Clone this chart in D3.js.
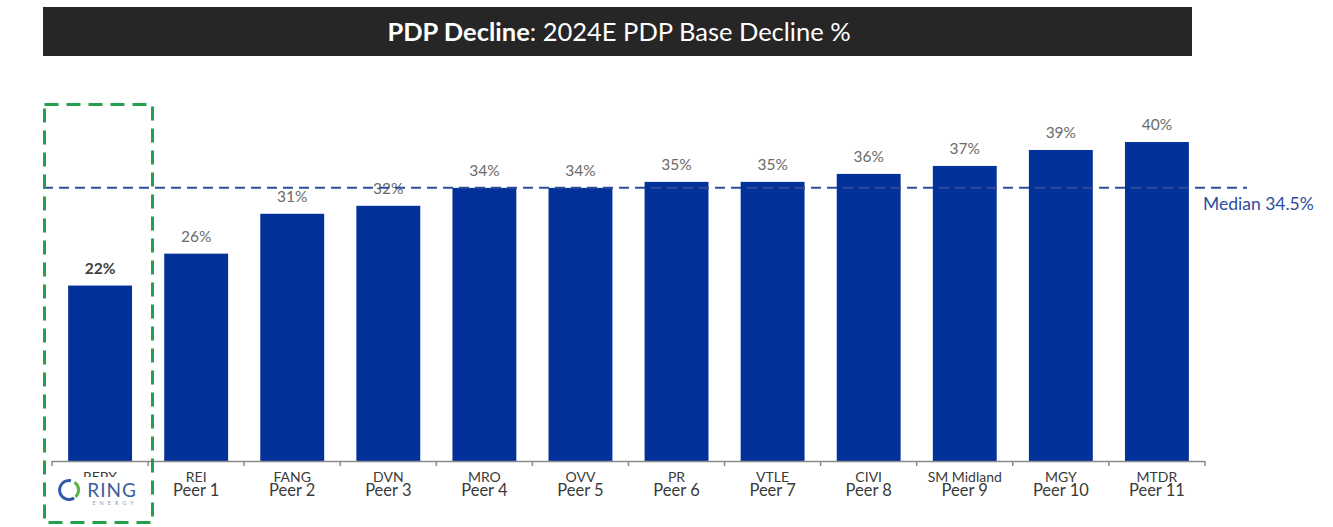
<!DOCTYPE html>
<html><head><meta charset="utf-8">
<script src="https://cdn.jsdelivr.net/npm/d3@7"></script>
<style>body{margin:0;background:#fff}svg{display:block}</style>
</head><body>
<svg id="c" width="1333" height="527"></svg>
<script>
const tickers = ["REPX","REI","FANG","DVN","MRO","OVV","PR","VTLE","CIVI","SM Midland","MGY","MTDR"];
const peers = ["","Peer 1","Peer 2","Peer 3","Peer 4","Peer 5","Peer 6","Peer 7","Peer 8","Peer 9","Peer 10","Peer 11"];
const values = [22,26,31,32,34.25,34.25,35,35,36,37,39,40];
const valueLabels = ["22%","26%","31%","32%","34%","34%","35%","35%","36%","37%","39%","40%"];
const median = 34.5;

const svg = d3.select("#c");
const font = "Lato, 'Noto Sans', sans-serif";

// title bar
svg.append("rect").attr("x",43).attr("y",7).attr("width",1149).attr("height",49).attr("fill","#262626");
const t = svg.append("text").attr("x",619).attr("y",41).attr("text-anchor","middle")
  .attr("fill","#fff").attr("font-family",font).attr("font-size",25.5);
t.append("tspan").attr("font-weight","bold").text("PDP Decline");
t.append("tspan").text(": 2024E PDP Base Decline %");

const x = d3.scaleBand().domain(tickers).range([52,1205]).paddingInner(0.335).paddingOuter(0.168);
const y = d3.scaleLinear().domain([0,40]).range([461,142]);

// bars
svg.selectAll("rect.bar").data(values).join("rect").attr("class","bar")
  .attr("x",(d,i)=>x(tickers[i])).attr("width",x.bandwidth())
  .attr("y",d=>y(d)).attr("height",d=>y(0)-y(d)).attr("fill","#02319a");

// value labels
svg.selectAll("text.val").data(values).join("text").attr("class","val")
  .attr("x",(d,i)=>x(tickers[i])+x.bandwidth()/2).attr("y",d=>y(d)-12)
  .attr("text-anchor","middle").attr("font-family",font).attr("font-size",15.5)
  .attr("font-weight",(d,i)=>i===0?"bold":"normal")
  .attr("fill",(d,i)=>i===0?"#404040":"#6a6a6a")
  .text((d,i)=>valueLabels[i]);

// median line
svg.append("line").attr("x1",43).attr("x2",1247).attr("y1",y(median)+2).attr("y2",y(median)+2)
  .attr("stroke","#2d4c9c").attr("stroke-width",2).attr("stroke-dasharray","10,6");
svg.append("text").attr("x",1203).attr("y",210).attr("font-family",font).attr("font-size",17.5)
  .attr("fill","#2d4c9c").text("Median " + median + "%");

// x axis
const ax = svg.append("g");
ax.append("line").attr("x1",52).attr("x2",1205).attr("y1",461.5).attr("y2",461.5).attr("stroke","#8a8a8a").attr("stroke-width",1.5);
const bounds = tickers.map((d,i)=>52 + i*x.step()).concat([1205]);
ax.selectAll("line.tk").data(bounds).join("line").attr("class","tk")
  .attr("x1",d=>d).attr("x2",d=>d).attr("y1",461).attr("y2",466).attr("stroke","#8a8a8a").attr("stroke-width",1.5);

const lab = svg.selectAll("g.lab").data(tickers).join("g").attr("class","lab")
  .attr("transform",d=>`translate(${x(d)+x.bandwidth()/2},0)`);
lab.append("text").attr("y",482).attr("text-anchor","middle").attr("font-family",font)
  .attr("font-size",14).attr("fill","#3a3a3a").text(d=>d);
lab.append("text").attr("y",496).attr("text-anchor","middle").attr("font-family",font)
  .attr("font-size",16.5).attr("fill","#3a3a3a").text((d,i)=>peers[i]);

// logo covering REPX
const cx = x("REPX")+x.bandwidth()/2;
svg.append("rect").attr("x",cx-45).attr("y",477).attr("width",90).attr("height",28).attr("fill","#fff");
const logo = svg.append("g").attr("transform",`translate(${cx},0)`);
logo.append("path").attr("d",d3.arc()({innerRadius:8,outerRadius:11,startAngle:-3.7,endAngle:0.2}))
  .attr("transform","translate(-31,490)").attr("fill","#2f5aa8");
logo.append("path").attr("d",d3.arc()({innerRadius:8,outerRadius:11,startAngle:0.6,endAngle:2.4}))
  .attr("transform","translate(-31,490)").attr("fill","#5bb445");
logo.append("text").attr("x",12).attr("y",496.5).attr("text-anchor","middle").attr("font-family",font)
  .attr("font-size",19).attr("fill","#3c5f9e").attr("letter-spacing",1).text("RING");
logo.append("text").attr("x",15).attr("y",504.5).attr("text-anchor","middle").attr("font-family",font)
  .attr("font-size",5.5).attr("fill","#8c9bb8").attr("letter-spacing",4).text("ENERGY");

// green dashed box
svg.append("rect").attr("x",44.5).attr("y",104.5).attr("width",108).attr("height",418)
  .attr("fill","none").attr("stroke","#22a04b").attr("stroke-width",3).attr("stroke-dasharray","14,8");
</script>
</body></html>
